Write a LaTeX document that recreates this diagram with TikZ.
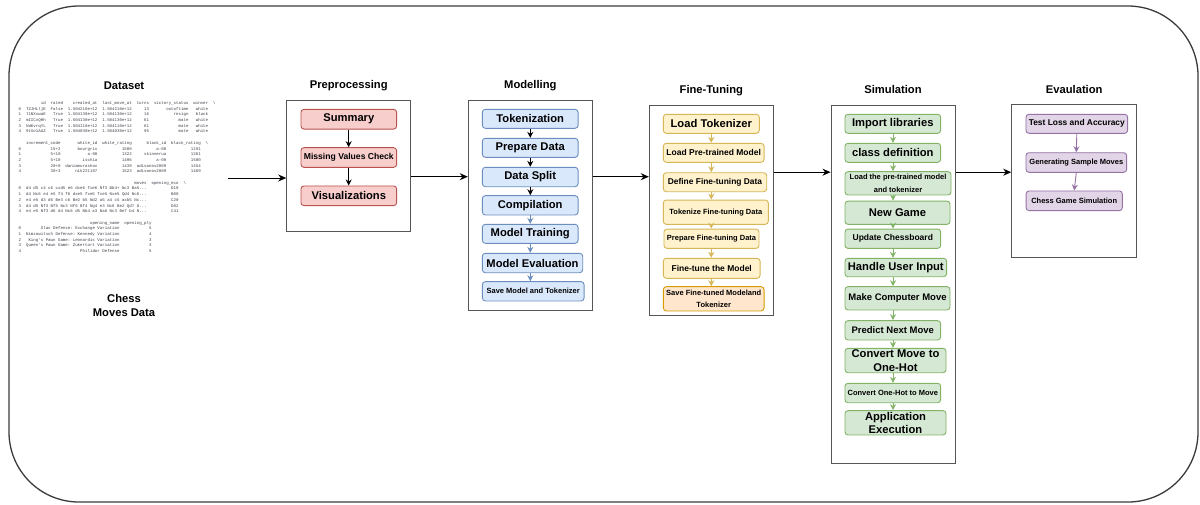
\documentclass[tikz,border=0pt]{standalone}
\usepackage{fontspec}
\setmainfont{Liberation Sans}
\setmonofont{Liberation Mono}
\usetikzlibrary{arrows.meta}

\definecolor{frameline}{HTML}{3A3A3A}
\definecolor{stageline}{HTML}{555555}
\definecolor{dfgray}{HTML}{3C3C48}
\definecolor{redfill}{HTML}{F8CECC}
\definecolor{redline}{HTML}{B85450}
\definecolor{bluefill}{HTML}{DAE8FC}
\definecolor{blueline}{HTML}{6C8EBF}
\definecolor{yellowfill}{HTML}{FFF2CC}
\definecolor{yellowline}{HTML}{D6B656}
\definecolor{orangefill}{HTML}{FFE6CC}
\definecolor{orangeline}{HTML}{D79B00}
\definecolor{greenfill}{HTML}{D5E8D4}
\definecolor{greenline}{HTML}{82B366}
\definecolor{purplefill}{HTML}{E1D5E7}
\definecolor{purpleline}{HTML}{9673A6}

\tikzset{
  stage/.style={draw=stageline, line width=1pt, fill=white, inner sep=0pt},
  head/.style={anchor=base, inner sep=0pt, font=\fontsize{11.2}{13.4}\selectfont\bfseries},
  dftab/.style={anchor=north west, inner sep=0pt, text=dfgray, font=\ttfamily\fontsize{4.1}{5.7}\selectfont},
  task/.style={rounded corners=3pt, line width=0.9pt, inner sep=0pt, align=center, text=black},
  redtask/.style={task, fill=redfill, draw=redline},
  bluetask/.style={task, fill=bluefill, draw=blueline},
  yellowtask/.style={task, fill=yellowfill, draw=yellowline},
  orangetask/.style={task, fill=orangefill, draw=orangeline},
  greentask/.style={task, fill=greenfill, draw=greenline},
  purpletask/.style={task, fill=purplefill, draw=purpleline},
  bigtext/.style={font=\fontsize{11.2}{13.4}\selectfont\bfseries},
  midtext/.style={font=\fontsize{9.5}{12}\selectfont\bfseries},
  smalltext/.style={font=\fontsize{8.5}{12}\selectfont\bfseries},
  tinytext/.style={font=\fontsize{7.5}{12.8}\selectfont\bfseries},
  mainflow/.style={-{Stealth[length=8pt,width=7pt]}, line width=0.9pt},
  flow/.style={-{Stealth[length=6pt,width=6pt]}, line width=0.9pt}
}

\begin{document}
\begin{tikzpicture}[x=1pt, y=-1pt]
    \useasboundingbox (0,0) rectangle (1200,504);

    % Outer frame
    \draw[frameline, line width=1.3pt, rounded corners=70pt] (9,6) rectangle (1198,502);

    % Dataset
    \node[head] (dsT) at (124,89.3) {Dataset};
    \node[dftab] (df1) at (18.5,100.3) {\begin{tabular}{@{}l*{7}{@{\hspace{1.2em}}r}@{\hspace{1.2em}}l@{}}
      & id & rated & created\_at & last\_move\_at & turns & victory\_status & winner & \textbackslash\\
    0 & TZJHLljE & False & 1.504210e+12 & 1.504210e+12 & 13 & outoftime & white & \\
    1 & l1NXvwaE & True & 1.504130e+12 & 1.504130e+12 & 16 & resign & black & \\
    2 & mIICvQHh & True & 1.504130e+12 & 1.504130e+12 & 61 & mate & white & \\
    3 & kWKvrqYL & True & 1.504110e+12 & 1.504110e+12 & 61 & mate & white & \\
    4 & 9tXo1AUZ & True & 1.504030e+12 & 1.504030e+12 & 95 & mate & white &
    \end{tabular}};
    \node[dftab] (df2) at (18.5,140.2) {\begin{tabular}{@{}l*{5}{@{\hspace{1.2em}}r}@{\hspace{1.2em}}l@{}}
      & increment\_code & white\_id & white\_rating & black\_id & black\_rating & \textbackslash\\
    0 & 15+2 & bourgris & 1500 & a-00 & 1191 & \\
    1 & 5+10 & a-00 & 1322 & skinnerua & 1261 & \\
    2 & 5+10 & ischia & 1496 & a-00 & 1500 & \\
    3 & 20+0 & daniamurashov & 1439 & adivanov2009 & 1454 & \\
    4 & 30+3 & nik221107 & 1523 & adivanov2009 & 1469 &
    \end{tabular}};
    \node[dftab] (df3) at (18.5,180.1) {\begin{tabular}{@{}l*{2}{@{\hspace{1.2em}}r}@{\hspace{1.2em}}l@{}}
      & moves & opening\_eco & \textbackslash\\
    0 & d4 d5 c4 c6 cxd5 e6 dxe6 fxe6 Nf3 Bb4+ Nc3 Ba5... & D10 & \\
    1 & d4 Nc6 e4 e5 f4 f6 dxe5 fxe5 fxe5 Nxe5 Qd4 Nc6... & B00 & \\
    2 & e4 e5 d3 d6 Be3 c6 Be2 b5 Nd2 a5 a4 c5 axb5 Nc... & C20 & \\
    3 & d4 d5 Nf3 Bf5 Nc3 Nf6 Bf4 Ng4 e3 Nc6 Be2 Qd7 O... & D02 & \\
    4 & e4 e5 Nf3 d6 d4 Nc6 d5 Nb4 a3 Na6 Nc3 Be7 b4 N... & C41 &
    \end{tabular}};
    \node[dftab] (df4) at (18.5,220) {\begin{tabular}{@{}l*{2}{@{\hspace{1.2em}}r}@{}}
      & opening\_name & opening\_ply\\
    0 & Slav Defense: Exchange Variation & 5\\
    1 & Nimzowitsch Defense: Kennedy Variation & 4\\
    2 & King's Pawn Game: Leonardis Variation & 3\\
    3 & Queen's Pawn Game: Zukertort Variation & 3\\
    4 & Philidor Defense & 5
    \end{tabular}};
    \node[head, anchor=center, align=center] (dsname) at (124,305.3) {Chess\\Moves Data};

    % Stage boxes
    \node[stage, minimum width=124, minimum height=131] (pre) at (348.7,165.5) {};
    \node[stage, minimum width=124, minimum height=210] (mod) at (530.3,205) {};
    \node[stage, minimum width=124, minimum height=210] (ft) at (711.3,210) {};
    \node[stage, minimum width=124, minimum height=358.3] (sim) at (893,284.2) {};
    \node[stage, minimum width=125, minimum height=152.7] (ev) at (1074.2,181.3) {};

    \node[head] (preT) at ([yshift=10.7pt]pre.north) {Preprocessing};
    \node[head] (modT) at ([yshift=10.7pt]mod.north) {Modelling};
    \node[head] (ftT) at ([yshift=10.7pt]ft.north) {Fine-Tuning};
    \node[head] (simT) at ([yshift=10.7pt]sim.north) {Simulation};
    \node[head] (evT) at ([yshift=10.7pt]ev.north) {Evaulation};

    % Preprocessing steps
    \node[redtask, bigtext, minimum width=95.7, minimum height=19.7] (summ) at (348.8,119.2) {Summary};
    \node[redtask, font=\fontsize{8.6}{12}\selectfont\bfseries, minimum width=95.7, minimum height=19.7] (miss) at (348.8,157.5) {Missing Values Check};
    \node[redtask, bigtext, minimum width=95.7, minimum height=19.7] (vis) at (348.8,195.8) {Visualizations};

    % Modelling steps
    \node[bluetask, bigtext, minimum width=95.7, minimum height=19] (tokn) at (530.2,118.8) {Tokenization};
    \node[bluetask, bigtext, minimum width=95.7, minimum height=19] (prep) at (530.2,147.8) {Prepare Data};
    \node[bluetask, bigtext, minimum width=95.7, minimum height=19.4] (split) at (530.2,177) {Data Split};
    \node[bluetask, bigtext, minimum width=95.7, minimum height=19.3] (comp) at (530.2,205.3) {Compilation};
    \node[bluetask, bigtext, minimum width=95.7, minimum height=19] (train) at (530.2,233.8) {Model Training};
    \node[bluetask, bigtext, minimum width=100.4, minimum height=19.4] (meval) at (532.5,263) {Model Evaluation};
    \node[bluetask, tinytext, minimum width=101.7, minimum height=19.3] (savem) at (533.2,291.3) {Save Model and Tokenizer};

    % Fine-tuning steps
    \node[yellowtask, bigtext, minimum width=96, minimum height=19] (ltok) at (711.3,123.8) {Load Tokenizer};
    \node[yellowtask, smalltext, minimum width=100.7, minimum height=19] (lpre) at (713.7,152.8) {Load Pre-trained Model};
    \node[yellowtask, font=\fontsize{8.4}{12}\selectfont\bfseries, minimum width=103.4, minimum height=19] (dfine) at (715,182.2) {Define Fine-tuning Data};
    \node[yellowtask, tinytext, minimum width=105, minimum height=24.3] (tfine) at (715.8,212.2) {Tokenize Fine-tuning Data};
    \node[yellowtask, tinytext, minimum width=95, minimum height=19.3] (pfine) at (711.5,238.7) {Prepare Fine-tuning Data};
    \node[yellowtask, smalltext, minimum width=96.7, minimum height=20] (ftm) at (711.7,268.3) {Fine-tune the Model};
    \node[orangetask, font=\fontsize{7.5}{12.4}\selectfont\bfseries, minimum width=100.7, minimum height=24.3] (sft) at (713.7,298.8) {Save Fine-tuned Modeland\\Tokenizer};

    % Simulation steps
    \node[greentask, bigtext, minimum width=95.7, minimum height=19] (imp) at (892.8,123.8) {Import libraries};
    \node[greentask, bigtext, minimum width=95.7, minimum height=19] (cls) at (892.8,152.8) {class definition};
    \node[greentask, tinytext, minimum width=106, minimum height=23.3] (lpm) at (898,183.3) {Load the pre-trained model\\and tokenizer};
    \node[greentask, bigtext, minimum width=105, minimum height=23.3] (newg) at (897.5,212.7) {New Game};
    \node[greentask, smalltext, minimum width=95.7, minimum height=19.3] (upd) at (892.8,238.7) {Update Chessboard};
    \node[greentask, bigtext, minimum width=101.7, minimum height=18.4] (hui) at (895.8,267.5) {Handle User Input};
    \node[greentask, midtext, minimum width=105, minimum height=23.3] (mcm) at (897.5,298.3) {Make Computer Move};
    \node[greentask, midtext, minimum width=95.7, minimum height=19.3] (pnm) at (892.8,330.3) {Predict Next Move};
    \node[greentask, bigtext, minimum width=101, minimum height=24.4] (cmo) at (895.5,360.5) {Convert Move to\\One-Hot};
    \node[greentask, tinytext, minimum width=95.7, minimum height=19.4] (com) at (892.8,393) {Convert One-Hot to Move};
    \node[greentask, bigtext, minimum width=101, minimum height=24.3] (app) at (895.5,422.8) {Application\\Execution};

    % Evaluation steps
    \node[purpletask, font=\fontsize{8.4}{12}\selectfont\bfseries, minimum width=101.7, minimum height=19] (tla) at (1076.8,123.8) {Test Loss and Accuracy};
    \node[purpletask, tinytext, minimum width=100.7, minimum height=19.6] (gsm) at (1076.3,162.5) {Generating Sample Moves};
    \node[purpletask, tinytext, minimum width=96.3, minimum height=19.7] (cgs) at (1074.2,200.8) {Chess Game Simulation};

    % Main flow
    \coordinate (dsout) at (228,178);
    \coordinate (rowA) at (0,176.7);
    \coordinate (rowB) at (0,172.2);
    \draw[mainflow] (dsout) -- (dsout -| pre.west);
    \draw[mainflow] (pre.east |- rowA) -- (mod.west |- rowA);
    \draw[mainflow] (mod.east |- rowA) -- (ft.west |- rowA);
    \draw[mainflow] (ft.east |- rowB) -- (sim.west |- rowB);
    \draw[mainflow] (sim.east |- rowB) -- (ev.west |- rowB);

    % Steps inside the stages
    \draw[flow] (pre.center |- summ.south) -- (pre.center |- miss.north);
    \draw[flow] (pre.center |- miss.south) -- (pre.center |- vis.north);

    \draw[flow] (mod.center |- tokn.south) -- (mod.center |- prep.north);
    \draw[flow] (mod.center |- prep.south) -- (mod.center |- split.north);
    \draw[flow] (mod.center |- split.south) -- (mod.center |- comp.north);
    \draw[flow, blueline] (mod.center |- comp.south) -- (mod.center |- train.north);
    \draw[flow, blueline] (mod.center |- train.south) -- (mod.center |- meval.north);
    \draw[flow, blueline] (mod.center |- meval.south) -- (mod.center |- savem.north);

    \draw[flow, yellowline] (ft.center |- ltok.south) -- (ft.center |- lpre.north);
    \draw[flow, yellowline] (ft.center |- lpre.south) -- (ft.center |- dfine.north);
    \draw[flow, yellowline] (ft.center |- dfine.south) -- (ft.center |- tfine.north);
    \draw[flow, yellowline] (ft.center |- tfine.south) -- (ft.center |- pfine.north);
    \draw[flow, yellowline] (ft.center |- pfine.south) -- (ft.center |- ftm.north);
    \draw[flow, yellowline] (ft.center |- ftm.south) -- (ft.center |- sft.north);

    \draw[flow, greenline] (sim.center |- imp.south) -- (sim.center |- cls.north);
    \draw[flow, greenline] (sim.center |- cls.south) -- (sim.center |- lpm.north);
    \draw[flow, greenline] (sim.center |- lpm.south) -- (sim.center |- newg.north);
    \draw[flow, greenline] (sim.center |- newg.south) -- (sim.center |- upd.north);
    \draw[flow, greenline] (sim.center |- upd.south) -- (sim.center |- hui.north);
    \draw[flow, greenline] (sim.center |- hui.south) -- (sim.center |- mcm.north);
    \draw[flow, greenline] (sim.center |- mcm.south) -- (sim.center |- pnm.north);
    \draw[flow, greenline] (sim.center |- pnm.south) -- (sim.center |- cmo.north);
    \draw[flow, greenline] (sim.center |- cmo.south) -- (sim.center |- com.north);
    \draw[flow, greenline] (sim.center |- com.south) -- (sim.center |- app.north);

    \draw[flow, purpleline] (tla.south) -- (gsm.north);
    \draw[flow, purpleline] (gsm.south) -- (cgs.north);
\end{tikzpicture}
\end{document}
